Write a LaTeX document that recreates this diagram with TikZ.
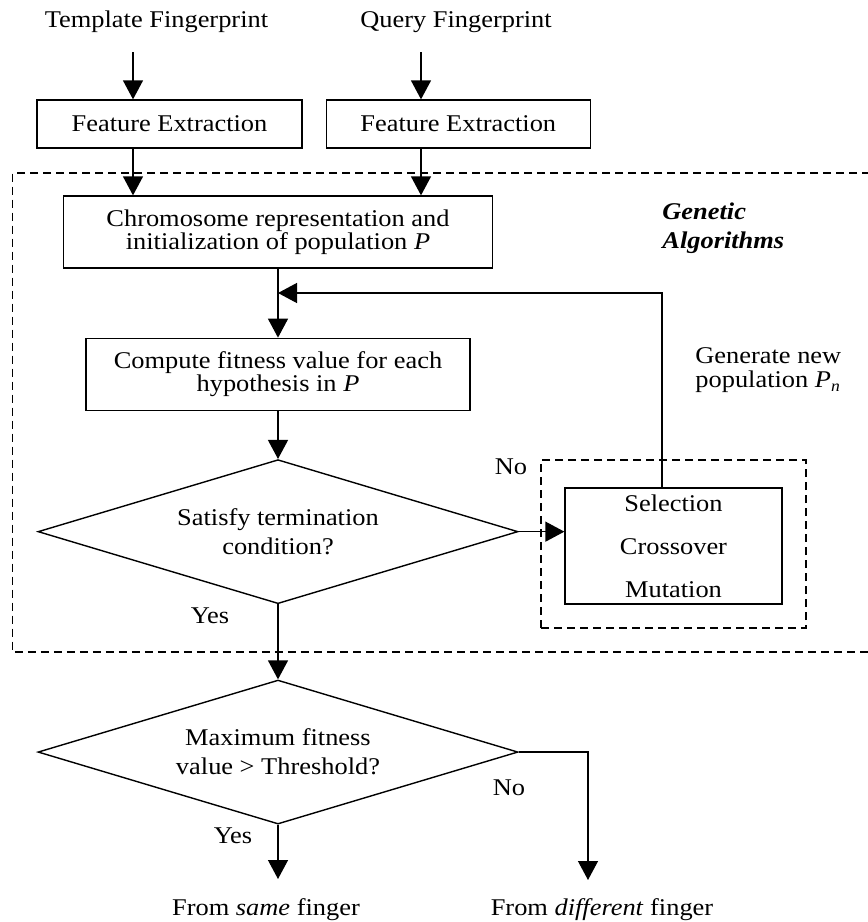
\documentclass[tikz,border=0pt]{standalone}
\usepackage{fontspec}
\setmainfont{Liberation Serif}[FakeStretch=1.1]
\usepackage{tikz}
\usetikzlibrary{positioning, shapes.geometric, arrows.meta}

\tikzset{
	txtbase/.style={font=\fontsize{12}{11.5}\selectfont, align=center},
	txt/.style={txtbase, inner sep=0pt, anchor=base},
	block/.style={txtbase, draw, line width=0.65pt, inner sep=0pt, minimum height=24pt},
	decision/.style={txtbase, draw, diamond, aspect=3.333, line width=0.7pt, inner sep=0pt, minimum width=240pt, minimum height=72pt, font=\fontsize{12}{14.5}\selectfont},
	flow/.style={line width=0.65pt, -{Triangle[length=9.5pt, width=10pt]}},
	region/.style={line width=0.65pt, dash pattern=on 4pt off 2.5pt},
}

\begin{document}
\begin{tikzpicture}[x=0.5pt, y=-0.5pt]
		\useasboundingbox (0,0) rectangle (868,922);

		\node[txt] (tmpl) at (156.5,27) {Template Fingerprint};
		\node[txt] (query) at (456,27) {Query Fingerprint};

		\node[block, minimum width=132.5pt] (fe1) at (169.5,124) {Feature Extraction};
		\node[block, minimum width=132pt, right=11.5pt of fe1] (fe2) {Feature Extraction};

		\node[block, minimum width=214.5pt, minimum height=36pt] (chrom) at (278,232) {Chromosome representation and\\initialization of population \textit{P}};
		\node[block, minimum width=192pt, minimum height=36pt, below=34.5pt of chrom] (comp) {Compute fitness value for each\\hypothesis in \textit{P}};
		\node[decision, below=24pt of comp] (term) {Satisfy termination\\condition?};
		\node[decision, below=37.5pt of term] (thr) {Maximum fitness\\value > Threshold?};

		\node[region, draw, minimum width=132.5pt, minimum height=84pt] (ops) at (673.5,544) {};
		\node[block, minimum width=108.5pt, minimum height=58pt, font=\fontsize{12}{21.5}\selectfont] (sel) at (673.5,546) {Selection\\Crossover\\Mutation};

		\node[txtbase, inner sep=0pt, anchor=north west, align=left, font=\fontsize{12}{14.5}\selectfont\bfseries\itshape] (ga) at (662,202) {Genetic\\Algorithms};
		\node[txtbase, inner sep=0pt, anchor=north west, align=left, font=\fontsize{12}{12}\selectfont] (gen) at (695,347.5) {Generate new\\population \textit{P}\textsubscript{\textit{n}}};

		\node[txt] (no1) at (511,474) {No};
		\node[txt] (yes1) at (210,623) {Yes};
		\node[txt] (no2) at (509,795) {No};
		\node[txt] (yes2) at (233,843) {Yes};
		\node[txt] (same) at (266,915) {From \textit{same} finger};
		\node[txt] (diff) at (602,915) {From \textit{different} finger};

		\coordinate (tin) at (133,52);
		\coordinate (qin) at (421,52);
		\coordinate (back) at (662,293);
		\coordinate (sameend) at (278,879);
		\coordinate (diffend) at (588,880);

		\draw[region] (870,173) -- (12.5,173) -- (12.5,652) -- (870,652);

		\draw[flow] (tin) -- (tin |- fe1.north);
		\draw[flow] (qin) -- (qin |- fe2.north);
		\draw[flow] (tin |- fe1.south) -- (tin |- chrom.north);
		\draw[flow] (qin |- fe2.south) -- (qin |- chrom.north);
		\draw[flow] (chrom.south) -- (comp.north);
		\draw[flow] (sel.north -| back) -- (back) -- (back -| comp.north);
		\draw[flow] (comp.south) -- (term.north);
		\draw[flow] (term.east) -- (term.east -| sel.west);
		\draw[flow] (term.south) -- (thr.north);
		\draw[flow] (thr.south) -- (sameend);
		\draw[flow] (thr.east) -| (diffend);

	\end{tikzpicture}
\end{document}
